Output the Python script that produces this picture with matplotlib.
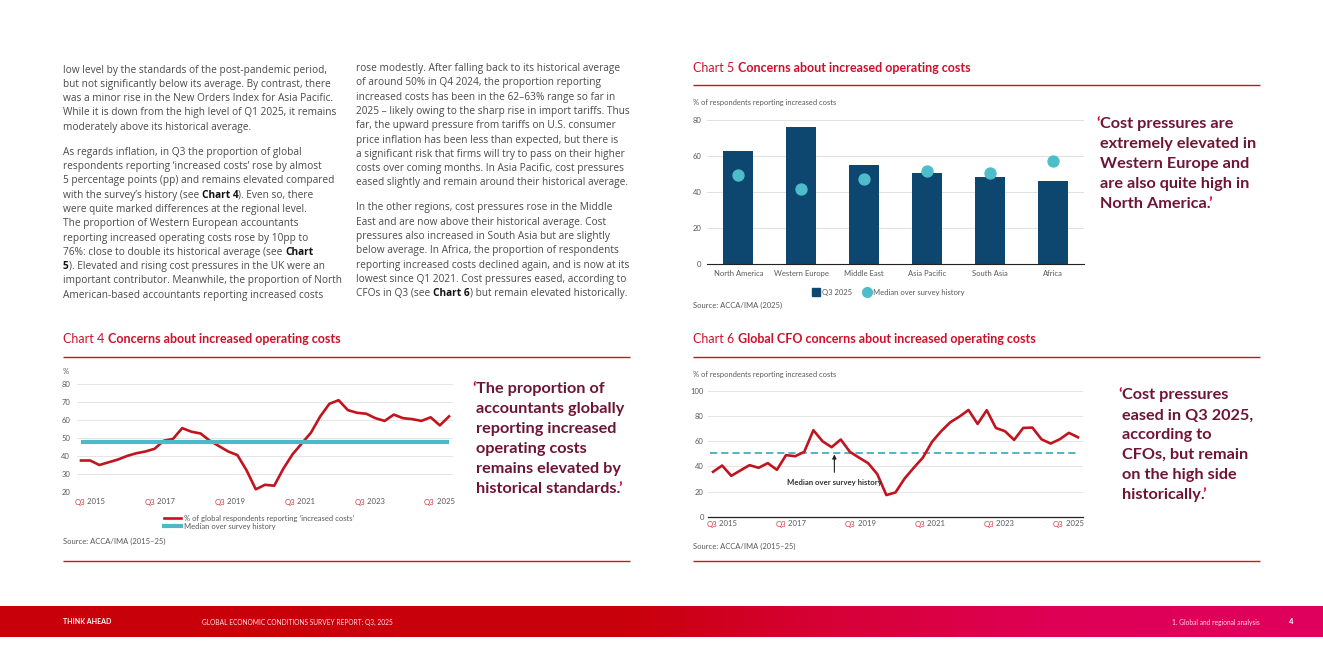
import matplotlib
matplotlib.use('Agg')
import matplotlib.pyplot as plt
import numpy as np
from matplotlib.colors import LinearSegmentedColormap
from matplotlib.lines import Line2D

plt.rcParams['font.family'] = ['Lato', 'DejaVu Sans']

W, H = 1323, 662

# chart 4: share of global respondents reporting increased costs, Q3 2015 .. Q3 2025
global_costs = [37.5, 37.5, 35, 36.5, 38, 40, 41.5, 42.5, 44, 48.5, 49.5, 55.5, 53.5, 52.5,
                48.5, 45.5, 42.5, 40.5, 32, 21.5, 24, 23.5, 33, 41, 47, 53, 62, 69, 71, 65.5,
                64, 63.5, 61, 59.5, 63, 61, 60.5, 59.5, 61.5, 57, 62]
global_median = 47.7

# chart 6: CFOs reporting increased costs, Q3 2015 .. Q3 2025
cfo_costs = [35.7, 40.7, 32.5, 36.8, 41, 38.9, 42.6, 37.3, 49, 48.1, 51.6, 68.8, 60, 55.3,
             61.4, 51.6, 47, 42.6, 33.9, 17.2, 19.3, 30.4, 38.9, 47, 59.5, 68, 75.1, 79.6,
             84.9, 73.8, 84.7, 70.6, 68, 61.1, 70.6, 70.9, 61.6, 58.2, 61.6, 66.7, 63.2]
cfo_median = 51

# chart 5: regions
regions = ['North America', 'Western Europe', 'Middle East', 'Asia Pacific', 'South Asia', 'Africa']
region_q3_2025 = [63, 76, 55, 50.5, 48.5, 46]
region_median = [49.5, 41.5, 47.5, 51.5, 50.5, 57]

tick_years = ['2015', '2017', '2019', '2021', '2023', '2025']

col1 = [
    "low level by the standards of the post-pandemic period,",
    "but not significantly below its average. By contrast, there",
    "was a minor rise in the New Orders Index for Asia Pacific.",
    "While it is down from the high level of Q1 2025, it remains",
    "moderately above its historical average.",
    None,
    "As regards inflation, in Q3 the proportion of global",
    "respondents reporting \u2018increased costs\u2019 rose by almost",
    "5 percentage points (pp) and remains elevated compared",
    "with the survey\u2019s history (see **Chart 4**). Even so, there",
    "were quite marked differences at the regional level.",
    "The proportion of Western European accountants",
    "reporting increased operating costs rose by 10pp to",
    "76%: close to double its historical average (see **Chart**",
    "**5**). Elevated and rising cost pressures in the UK were an",
    "important contributor. Meanwhile, the proportion of North",
    "American-based accountants reporting increased costs",
]
col2 = [
    "rose modestly. After falling back to its historical average",
    "of around 50% in Q4 2024, the proportion reporting",
    "increased costs has been in the 62\u201363% range so far in",
    "2025 \u2013 likely owing to the sharp rise in import tariffs. Thus",
    "far, the upward pressure from tariffs on U.S. consumer",
    "price inflation has been less than expected, but there is",
    "a significant risk that firms will try to pass on their higher",
    "costs over coming months. In Asia Pacific, cost pressures",
    "eased slightly and remain around their historical average.",
    None,
    "In the other regions, cost pressures rose in the Middle",
    "East and are now above their historical average. Cost",
    "pressures also increased in South Asia but are slightly",
    "below average. In Africa, the proportion of respondents",
    "reporting increased costs declined again, and is now at its",
    "lowest since Q1 2021. Cost pressures eased, according to",
    "CFOs in Q3 (see **Chart 6**) but remain elevated historically.",
]

quote5 = ["Cost pressures are", "extremely elevated in", "Western Europe and",
          "are also quite high in", "North America."]
quote4 = ["The proportion of", "accountants globally", "reporting increased",
          "operating costs", "remains elevated by", "historical standards."]
quote6 = ["Cost pressures", "eased in Q3 2025,", "according to", "CFOs, but remain",
          "on the high side", "historically."]

RED = '#d0102b'
MAROON = '#6e1535'
QRED = '#e2002d'
BODY = '#4a4a4a'
GREY = '#595959'
NAVY = '#0d466e'
TEAL = '#4dbdcc'
LINE_RED = '#c0141f'
BODY_FONT = ['Open Sans', 'DejaVu Sans']

fig = plt.figure(figsize=(W / 100, H / 100), dpi=100)
fig.patch.set_facecolor('white')
page = fig.add_axes([0, 0, 1, 1])
page.set_xlim(0, W)
page.set_ylim(H, 0)
page.axis('off')
page.set_zorder(10)
renderer = fig.canvas.get_renderer()


def box(l, t, r, b):
    return [l / W, 1 - b / H, (r - l) / W, (b - t) / H]


def width_of(s, **kw):
    t = page.text(0, 0, '|' + s + '|', **kw)
    w1 = t.get_window_extent(renderer).width
    t.remove()
    t = page.text(0, 0, '||', **kw)
    w2 = t.get_window_extent(renderer).width
    t.remove()
    return w1 - w2


def runs(x, y, parts, size, ha='left', family=None):
    kw = {'fontsize': size}
    if family:
        kw['family'] = family
    if ha == 'center':
        total = sum(width_of(s, fontweight=wt, **kw) for s, wt, c in parts)
        x = x - total / 2
    for s, wt, c in parts:
        page.text(x, y, s, fontweight=wt, color=c, va='center', ha='left', **kw)
        x += width_of(s, fontweight=wt, **kw)
    return x


def body(x, y0, lines, step=14.3, size=7.3):
    y = y0
    for ln in lines:
        if ln is None:
            y += step * 0.75
            continue
        bits = ln.split('**')
        parts = [(b, 'bold' if i % 2 else 'normal', '#111111' if i % 2 else BODY)
                 for i, b in enumerate(bits) if b]
        runs(x, y, parts, size, family=BODY_FONT)
        y += step


def quote(x, y0, lines, step=19.9, size=11.7):
    qw = width_of('\u2018', fontsize=size, fontweight='bold')
    for i, ln in enumerate(lines):
        y = y0 + i * step
        xs = x if i == 0 else x + qw
        if i == 0:
            xs = runs(xs, y, [('\u2018', 'bold', QRED)], size)
        xs = runs(xs, y, [(ln, 'bold', MAROON)], size)
        if i == len(lines) - 1:
            runs(xs - 2, y, [('\u2019', 'bold', QRED)], size)


def title(x, y, num, text):
    runs(x, y, [(num + ' ', 'normal', RED), (text, 'bold', RED)], 9.0)


def rule(x0, x1, y):
    page.plot([x0, x1], [y, y], color=RED, lw=1.0, solid_capstyle='butt')


# the year labels sit slightly inside the first and last quarters
label_pos = np.linspace(0.95, 38.95, len(tick_years))


def quarter_labels(ax, ypix):
    for pos, yr in zip(label_pos, tick_years):
        xd = ax.transData.transform((pos, 0))[0]
        runs(xd, ypix, [('Q3', 'normal', '#d23c48'), (' ' + yr, 'normal', GREY)], 5.6, ha='center')


# body text
body(63, 70, col1)
body(356, 68.5, col2)

# ---- Chart 5 ----
title(693, 68, 'Chart 5', 'Concerns about increased operating costs')
rule(693, 1260, 85)
page.text(693, 103, '% of respondents reporting increased costs', fontsize=5.4, color=GREY, va='center')
ax5 = fig.add_axes(box(707, 120, 1084, 264))
ax5.set_facecolor('none')
xr = np.arange(len(regions))
ax5.bar(xr, region_q3_2025, width=0.48, color=NAVY, zorder=2)
ax5.scatter(xr, region_median, s=62, color=TEAL, zorder=3, clip_on=False)
ax5.set_xlim(-0.5, 5.5)
ax5.set_ylim(0, 80)
ax5.set_yticks(range(0, 81, 20))
ax5.set_xticks(xr)
ax5.set_xticklabels(regions)
ax5.grid(axis='y', color='#dcdcdc', lw=0.6, zorder=0)
for s in ['top', 'right', 'left']:
    ax5.spines[s].set_visible(False)
ax5.spines['bottom'].set_color('#222222')
ax5.spines['bottom'].set_linewidth(0.8)
ax5.tick_params(length=0, labelsize=5.5, labelcolor=GREY)
ax5.tick_params(axis='y', pad=4)
ax5.tick_params(axis='x', pad=4)
h5 = [Line2D([], [], marker='s', color=NAVY, ls='none', markersize=6),
      Line2D([], [], marker='o', color=TEAL, ls='none', markersize=7)]
fig.legend(h5, ['Q3 2025', 'Median over survey history'], loc='center', ncol=2,
           bbox_to_anchor=(888 / W, 1 - 292 / H), bbox_transform=fig.transFigure,
           frameon=False, fontsize=5.5, handletextpad=0.2, columnspacing=1.3,
           labelcolor=GREY, handlelength=1.2)
page.text(693, 305, 'Source: ACCA/IMA (2025)', fontsize=5.5, color=GREY, va='center')
quote(1096, 124, quote5)

# ---- Chart 4 ----
title(63, 339, 'Chart 4', 'Concerns about increased operating costs')
rule(63, 630, 356.5)
rule(63, 630, 561)
page.text(63, 372, '%', fontsize=5.5, color=GREY, va='center')
ax4 = fig.add_axes(box(77, 384, 453, 492))
ax4.set_facecolor('none')
xq = np.arange(len(global_costs))
ax4.plot(xq, global_costs, color=LINE_RED, lw=1.9, zorder=3, clip_on=False,
         solid_joinstyle='round')
ax4.hlines(global_median, 0, len(global_costs) - 1, color='#4bb9c6', lw=3, zorder=4)
ax4.set_xlim(-0.43, 40.43)
ax4.set_ylim(20, 80)
ax4.set_yticks(range(20, 81, 10))
ax4.set_xticks([])
ax4.grid(axis='y', color='#e0e0e0', lw=0.6, zorder=0)
for s in ax4.spines.values():
    s.set_visible(False)
ax4.tick_params(length=0, labelsize=5.5, labelcolor=GREY, pad=5)
quarter_labels(ax4, 502)
h4 = [Line2D([], [], color=LINE_RED, lw=1.9), Line2D([], [], color='#4bb9c6', lw=3)]
fig.legend(h4, ['% of global respondents reporting \u2018increased costs\u2019',
                'Median over survey history'], loc='upper left',
           bbox_to_anchor=(160 / W, 1 - 511 / H), bbox_transform=fig.transFigure,
           frameon=False, fontsize=5.5, handlelength=2.2, handletextpad=0.5,
           labelspacing=0.15, labelcolor=GREY, borderpad=0)
page.text(63, 541, 'Source: ACCA/IMA (2015\u201325)', fontsize=5.5, color=GREY, va='center')
quote(472, 389, quote4, step=20)

# ---- Chart 6 ----
title(693, 339, 'Chart 6', 'Global CFO concerns about increased operating costs')
rule(693, 1260, 356.5)
rule(693, 1260, 561)
page.text(693, 374, '% of respondents reporting increased costs', fontsize=5.4, color=GREY, va='center')
ax6 = fig.add_axes(box(708, 391, 1083, 516.7))
ax6.set_facecolor('none')
xc = np.arange(len(cfo_costs))
ax6.plot(xc, cfo_costs, color=LINE_RED, lw=1.9, zorder=3, solid_joinstyle='round')
ax6.hlines(cfo_median, -0.3, len(cfo_costs) - 1, color='#3fb1be', lw=1.3,
           linestyles=(0, (4, 2.2)), zorder=2)
ax6.annotate('Median over survey history', xy=(13.3, cfo_median - 1.5), xytext=(13.3, 27),
             ha='center', va='center', fontsize=5.6, fontweight='bold', color='#333333',
             arrowprops=dict(arrowstyle='-|>', color='#222222', lw=0.8, mutation_scale=6,
                             shrinkA=3, shrinkB=0))
ax6.set_xlim(-0.55, 40.55)
ax6.set_ylim(0, 100)
ax6.set_yticks(range(0, 101, 20))
ax6.set_xticks([])
ax6.grid(axis='y', color='#e0e0e0', lw=0.6, zorder=0)
for s in ['top', 'right', 'left']:
    ax6.spines[s].set_visible(False)
ax6.spines['bottom'].set_color('#222222')
ax6.spines['bottom'].set_linewidth(0.9)
ax6.tick_params(length=0, labelsize=5.5, labelcolor=GREY, pad=3)
quarter_labels(ax6, 524)
page.text(693, 546, 'Source: ACCA/IMA (2015\u201325)', fontsize=5.5, color=GREY, va='center')
quote(1118, 395.5, quote6)

# ---- footer band ----
foot = fig.add_axes(box(0, 606, W, 637.5))
grad = np.linspace(0, 1, 500).reshape(1, -1)
cmap = LinearSegmentedColormap.from_list(
    'foot', [(0, '#c8000a'), (0.48, '#c9000c'), (0.62, '#d70035'), (0.8, '#de0055'), (1, '#e0005e')])
foot.imshow(grad, aspect='auto', cmap=cmap, extent=(0, W, 0, 1))
foot.axis('off')
page.text(63, 622, 'THINK AHEAD', fontsize=5, fontweight='bold', color='white', va='center')
page.text(202, 622, 'GLOBAL ECONOMIC CONDITIONS SURVEY REPORT: Q3, 2025', fontsize=4.8,
          color='#ffe0e0', va='center')
page.text(1172, 622, '1. Global and regional analysis', fontsize=4.8, color='#ffd6e4', va='center')
page.text(1289, 622, '4', fontsize=5.5, fontweight='bold', color='white', va='center')

fig.savefig('out.png', dpi=100, facecolor='white')
